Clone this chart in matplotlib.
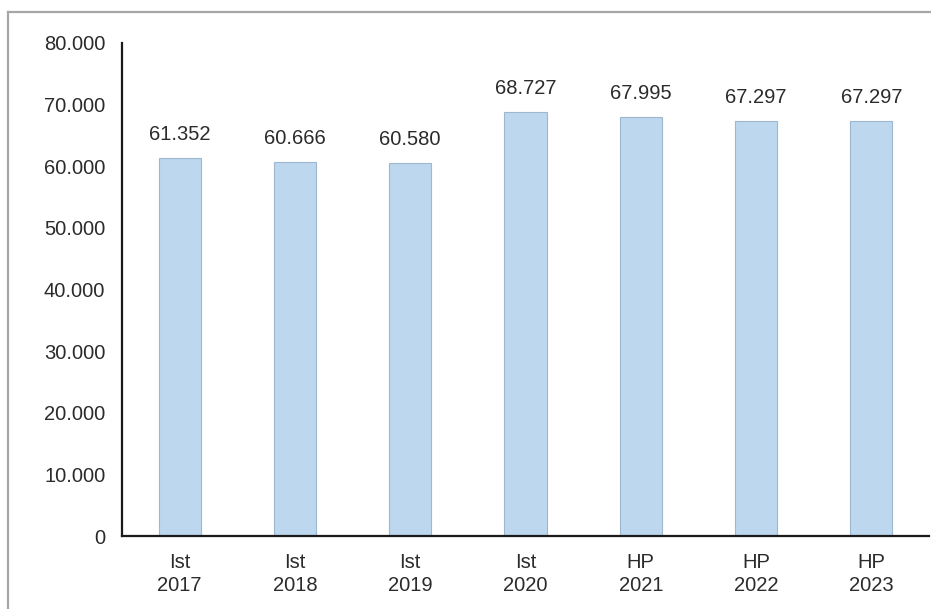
import matplotlib
matplotlib.use("Agg")
import matplotlib.pyplot as plt
from matplotlib.lines import Line2D
from matplotlib.ticker import FuncFormatter

plt.rcParams['font.family'] = ['Liberation Sans', 'DejaVu Sans']

categories = ["Ist\n2017", "Ist\n2018", "Ist\n2019", "Ist\n2020", "HP\n2021", "HP\n2022", "HP\n2023"]
values = [61352, 60666, 60580, 68727, 67995, 67297, 67297]
y_ticks = [0, 10000, 20000, 30000, 40000, 50000, 60000, 70000, 80000]


def de_format(v, pos=None):
    return f"{int(round(v)):,}".replace(",", ".")


fig = plt.figure(figsize=(9.31, 6.09), dpi=100)
ax = fig.add_axes([122 / 931, 1 - 536 / 609, (929 - 122) / 931, (536 - 43) / 609])

x = list(range(len(categories)))
ax.bar(x, values, width=0.365, color="#BDD7EE", edgecolor="#9FB6CF", linewidth=0.8, zorder=2)

for xi, v in zip(x, values):
    ax.annotate(de_format(v), (xi, v), xytext=(0, 14), textcoords="offset pixels",
                ha="center", va="bottom", fontsize=14.5, color="#2b2b2b")

ax.set_xlim(-0.5, len(categories) - 0.5)
ax.set_ylim(0, 80000)
ax.set_yticks(y_ticks)
ax.yaxis.set_major_formatter(FuncFormatter(de_format))
ax.set_xticks(x)
ax.set_xticklabels(categories, fontsize=14.5, color="#2b2b2b", linespacing=1.3)
ax.tick_params(axis="y", length=0, pad=12, labelsize=14.5, labelcolor="#2b2b2b")
ax.tick_params(axis="x", length=0, pad=12)

for side in ("top", "right"):
    ax.spines[side].set_visible(False)
for side in ("left", "bottom"):
    ax.spines[side].set_linewidth(1.6)
    ax.spines[side].set_color("#1a1a1a")

# outer frame lines (top and left edge of the panel)
fig.add_artist(Line2D([8 / 931, 1.0], [1 - 12 / 609, 1 - 12 / 609], transform=fig.transFigure,
                      color="#a6a6a6", linewidth=1.6))
fig.add_artist(Line2D([8 / 931, 8 / 931], [0.0, 1 - 12 / 609], transform=fig.transFigure,
                      color="#a6a6a6", linewidth=1.6))

fig.savefig("out.png", dpi=100)
